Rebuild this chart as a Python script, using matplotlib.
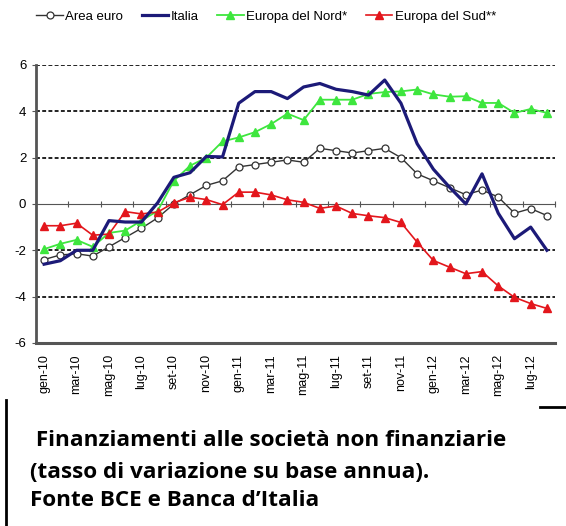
import matplotlib
matplotlib.use("Agg")
import matplotlib.pyplot as plt
from matplotlib.lines import Line2D

# monthly data, gen-10 .. ago-12
MONTHS = ["gen", "feb", "mar", "apr", "mag", "giu", "lug", "ago", "set", "ott", "nov", "dic"]
periods = [f"{m}-{y}" for y in ("10", "11", "12") for m in MONTHS][:32]

area_euro = [-2.4, -2.2, -2.15, -2.25, -1.85, -1.45, -1.05, -0.6, 0.0, 0.4, 0.8, 1.0,
             1.6, 1.7, 1.8, 1.9, 1.8, 2.4, 2.3, 2.2, 2.3, 2.4, 2.0, 1.3,
             1.0, 0.7, 0.4, 0.6, 0.3, -0.4, -0.2, -0.5]
italia = [-2.6, -2.45, -2.0, -2.0, -0.72, -0.78, -0.78, 0.05, 1.15, 1.35, 2.05, 2.03,
          4.35, 4.85, 4.85, 4.55, 5.05, 5.2, 4.95, 4.85, 4.7, 5.35, 4.35, 2.6,
          1.5, 0.72, 0.0, 1.3, -0.4, -1.5, -1.0, -2.0]
europa_nord = [-1.95, -1.72, -1.55, -1.85, -1.25, -1.15, -0.72, -0.3, 1.0, 1.65, 2.0, 2.7,
               2.87, 3.1, 3.45, 3.9, 3.62, 4.5, 4.5, 4.5, 4.75, 4.83, 4.86, 4.94,
               4.73, 4.63, 4.65, 4.36, 4.36, 3.93, 4.1, 3.93]
europa_sud = [-0.94, -0.94, -0.83, -1.35, -1.3, -0.33, -0.43, -0.35, 0.05, 0.29, 0.19, -0.03,
              0.51, 0.51, 0.39, 0.18, 0.07, -0.19, -0.09, -0.41, -0.51, -0.59, -0.8, -1.65,
              -2.44, -2.73, -3.01, -2.92, -3.54, -4.03, -4.3, -4.51]

y_ticks = [-6, -4, -2, 0, 2, 4, 6]
caption = [" Finanziamenti alle società non finanziarie",
           "(tasso di variazione su base annua).",
           "Fonte BCE e Banca d\u2019Italia"]

NAVY = "#1c1a78"
GREEN = "#3ee63e"
RED = "#e3161c"
AXIS_GREY = "#555555"

plt.rcParams["font.family"] = ["Liberation Sans", "DejaVu Sans"]
plt.rcParams["axes.unicode_minus"] = False

fig = plt.figure(figsize=(5.66, 5.26), dpi=100)
ax = fig.add_axes([0.0636, 0.348, 0.917, 0.5285])

x = list(range(len(periods)))

# dashed grid at the non-zero levels
for v in y_ticks:
    if v in (0, -6):
        continue
    ax.axhline(v, color="#222222", lw=1.4, ls=(0, (2, 1.2)), zorder=1)

ax.plot(x, area_euro, color="#333333", lw=1.0, marker="o", ms=5,
        mfc="white", mec="#333333", mew=0.9, label="Area euro", zorder=3)
ax.plot(x, italia, color=NAVY, lw=2.3, label="Italia", zorder=4)
ax.plot(x, europa_nord, color=GREEN, lw=1.3, marker="^", ms=6,
        mec=GREEN, label="Europa del Nord*", zorder=3)
ax.plot(x, europa_sud, color=RED, lw=1.2, marker="^", ms=6,
        mec=RED, label="Europa del Sud**", zorder=3)

ax.set_xlim(-0.5, len(periods) - 0.5)
ax.set_ylim(-6, 6)
ax.set_yticks(y_ticks)
ax.tick_params(axis="y", labelsize=9.5, length=3, color=AXIS_GREY, pad=4)

ax.set_xticks(x[::2])
ax.set_xticklabels(periods[::2], rotation=90, fontsize=9)
ax.tick_params(axis="x", length=0, pad=8)

for side in ("top", "right"):
    ax.spines[side].set_visible(False)
ax.spines["left"].set_color(AXIS_GREY)
ax.spines["left"].set_linewidth(2)
ax.spines["bottom"].set_color(AXIS_GREY)
ax.spines["bottom"].set_linewidth(2.2)

# category axis drawn across the zero line
zero_ax = ax.secondary_xaxis(0.5)
zero_ax.set_xticks([i + 0.5 for i in x[1::2]])
zero_ax.set_xticklabels([])
zero_ax.tick_params(direction="inout", length=5, color=AXIS_GREY, width=0.8)
zero_ax.spines["bottom"].set_color(AXIS_GREY)
zero_ax.spines["bottom"].set_linewidth(1.0)
zero_ax.spines["top"].set_color(AXIS_GREY)

fig.legend(loc="upper left", bbox_to_anchor=(0.055, 0.99), ncol=4, frameon=False,
           fontsize=9.5, handlelength=2.0, handletextpad=0.2, columnspacing=1.4,
           borderaxespad=0)

# caption block under the chart
cap_y = [441, 472, 500]
for line, yp in zip(caption, cap_y):
    fig.text(30 / 566, 1 - yp / 526, line, fontsize=16.2, fontweight="bold",
             family=["Open Sans", "DejaVu Sans"], va="center", ha="left")

fig.add_artist(Line2D([6 / 566, 6 / 566], [0, 1 - 400 / 526], color="black", lw=2))
fig.add_artist(Line2D([540 / 566, 1], [1 - 407 / 526] * 2, color="black", lw=2))

fig.savefig("out.png", dpi=100)
